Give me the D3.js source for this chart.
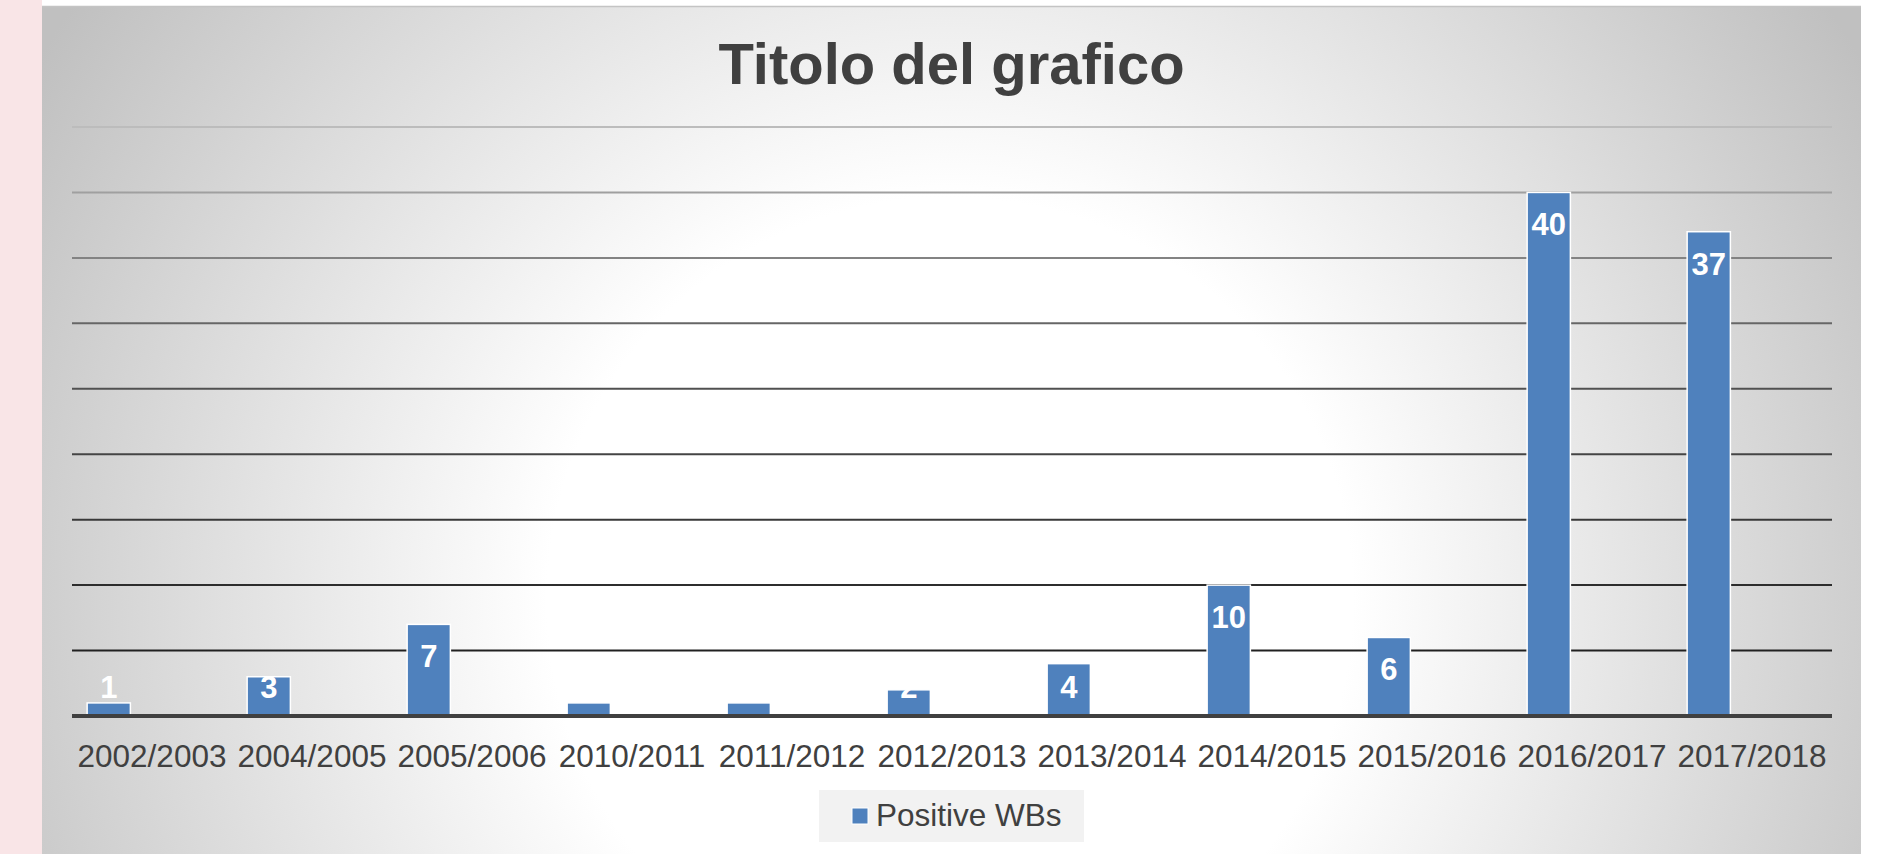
<!DOCTYPE html>
<html>
<head>
<meta charset="utf-8">
<script src="https://cdn.jsdelivr.net/npm/d3@7"></script>
<style>
    html, body { margin: 0; padding: 0; background: #fff; }
    svg { display: block; }
</style>
</head>
<body>
<svg id="chart"></svg>
<script>
    // data
    const categories = ["2002/2003", "2004/2005", "2005/2006", "2010/2011", "2011/2012",
        "2012/2013", "2013/2014", "2014/2015", "2015/2016", "2016/2017", "2017/2018"];
    const positiveWBs = [1, 3, 7, 1, 1, 2, 4, 10, 6, 40, 37];
    const seriesName = "Positive WBs";
    const yTicks = [0, 5, 10, 15, 20, 25, 30, 35, 40, 45];
    const chartTitle = "Titolo del grafico";

    const width = 1877, height = 854;
    const panel = {x: 42, y: 6, w: 1819, h: 848};
    const plot = {left: 72, right: 1832, top: 127, bottom: 716};
    const barColor = "#4f81bd";
    const textColor = "#404040";
    const font = "'Liberation Sans', Arial, sans-serif";

    const svg = d3.select("#chart").attr("width", width).attr("height", height);
    const defs = svg.append("defs");

    // background radial gradient (white centre, grey edges)
    const bg = defs.append("radialGradient")
        .attr("id", "bgGrad")
        .attr("gradientUnits", "userSpaceOnUse")
        .attr("cx", 950).attr("cy", 600).attr("r", 1060);
    bg.append("stop").attr("offset", 0).attr("stop-color", "#ffffff");
    bg.append("stop").attr("offset", 0.38).attr("stop-color", "#ffffff");
    bg.append("stop").attr("offset", 1).attr("stop-color", "#c0c0c0");

    // gridlines get darker towards the bottom
    const gg = defs.append("linearGradient")
        .attr("id", "gridGrad")
        .attr("gradientUnits", "userSpaceOnUse")
        .attr("x1", 0).attr("y1", plot.top).attr("x2", 0).attr("y2", plot.bottom);
    gg.append("stop").attr("offset", 0).attr("stop-color", "#bcbcbc");
    gg.append("stop").attr("offset", 0.4).attr("stop-color", "#555");
    gg.append("stop").attr("offset", 1).attr("stop-color", "#151515");

    // pinkish slide edge on the left
    svg.append("rect").attr("x", 0).attr("y", 0).attr("width", panel.x).attr("height", height)
        .attr("fill", "#f9e5e7");

    svg.append("rect")
        .attr("x", panel.x).attr("y", panel.y).attr("width", panel.w).attr("height", panel.h)
        .attr("fill", "url(#bgGrad)");
    svg.append("line")
        .attr("x1", panel.x).attr("x2", panel.x + panel.w)
        .attr("y1", panel.y + 0.5).attr("y2", panel.y + 0.5)
        .attr("stroke", "#c4c4c4").attr("stroke-width", 1.5);

    const x = d3.scaleBand().domain(categories).range([plot.left, plot.right]);
    // the original chart kept room for three series in each category
    const slot = d3.scaleBand().domain(d3.range(3)).range([0, x.bandwidth()]).paddingOuter(0.35);
    const y = d3.scaleLinear().domain([0, 45]).range([plot.bottom, plot.top]);

    // gridlines
    svg.append("g")
        .selectAll("line")
        .data(yTicks.filter(d => d > 0))
        .join("line")
        .attr("x1", plot.left).attr("x2", plot.right)
        .attr("y1", d => y(d)).attr("y2", d => y(d))
        .attr("stroke", "url(#gridGrad)")
        .attr("stroke-width", 2);

    // bars
    svg.append("g")
        .selectAll("rect")
        .data(positiveWBs)
        .join("rect")
        .attr("x", (d, i) => x(categories[i]) + slot(0))
        .attr("y", d => y(d))
        .attr("width", slot.bandwidth())
        .attr("height", d => y(0) - y(d))
        .attr("fill", barColor)
        .attr("stroke", "#fff")
        .attr("stroke-width", 1.5);

    // axis line
    svg.append("line")
        .attr("x1", plot.left).attr("x2", plot.right)
        .attr("y1", y(0)).attr("y2", y(0))
        .attr("stroke", textColor).attr("stroke-width", 4);

    // category axis
    const xAxis = svg.append("g")
        .attr("transform", `translate(0,${y(0)})`)
        .call(d3.axisBottom(x).tickSize(0).tickPadding(28));
    xAxis.select(".domain").remove();
    xAxis.selectAll("text")
        .attr("dy", 0)
        .attr("y", 51)
        .style("font-family", font)
        .style("font-size", "31.5px")
        .attr("fill", textColor);

    // data labels, inside end (pushed up when the bar is too short)
    svg.append("g")
        .selectAll("text")
        .data(positiveWBs)
        .join("text")
        .attr("x", (d, i) => x(categories[i]) + slot(0) + slot.bandwidth() / 2)
        .attr("y", d => Math.min(y(d) + 43, y(0) - 18))
        .attr("text-anchor", "middle")
        .style("font-family", font)
        .style("font-weight", "bold")
        .style("font-size", "31px")
        .attr("fill", "#fff")
        .text(d => d);

    // title
    svg.append("text")
        .attr("x", panel.x + panel.w / 2)
        .attr("y", 84)
        .attr("text-anchor", "middle")
        .style("font-family", font)
        .style("font-weight", "bold")
        .style("font-size", "58px")
        .attr("fill", textColor)
        .text(chartTitle);

    // legend
    const legend = svg.append("g").attr("transform", "translate(819,790)");
    legend.append("rect").attr("width", 265).attr("height", 52).attr("fill", "#f2f2f2");
    legend.append("rect")
        .attr("x", 33).attr("y", 18).attr("width", 16).attr("height", 16)
        .attr("fill", barColor).attr("stroke", "#fff").attr("stroke-width", 1);
    legend.append("text")
        .attr("x", 57).attr("y", 36)
        .style("font-family", font)
        .style("font-size", "31.5px")
        .attr("fill", textColor)
        .text(seriesName);
</script>
</body>
</html>
